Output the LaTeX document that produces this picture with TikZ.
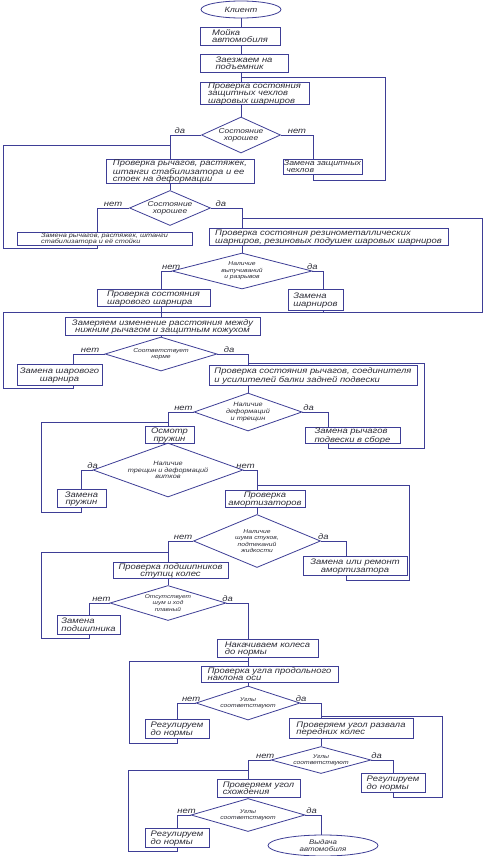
\documentclass[tikz,border=0pt]{standalone}
\usepackage{fontspec}
\setmainfont{Liberation Sans}[FakeStretch=1.18]
\usetikzlibrary{shapes.geometric}
\definecolor{flowline}{RGB}{62,62,150}
\definecolor{flowtext}{RGB}{45,45,55}

\tikzset{
  box/.style={draw=flowline, line width=0.8pt, text=flowtext, inner xsep=0pt, inner ysep=0.5pt, text depth=0pt, align=left, font=\fontsize{8}{7.5}\selectfont\itshape},
  term/.style={ellipse, draw=flowline, line width=0.8pt, text=flowtext, inner sep=0pt, align=center, font=\fontsize{7.6}{7.2}\selectfont\itshape},
  decision/.style={diamond, draw=flowline, line width=0.8pt, text=flowtext, inner sep=0.5pt, align=center, font=\fontsize{6.2}{6.8}\selectfont\itshape},
  tinydec/.style={decision, inner sep=0pt, font=\fontsize{5.7}{6}\selectfont\itshape},
  lbl/.style={above, inner sep=1pt, text=flowtext, font=\fontsize{8}{8}\selectfont\itshape},
  flow/.style={draw=flowline, line width=0.8pt}
}

\begin{document}
\begin{tikzpicture}[x=1pt, y=-1pt]
  \fill[white] (0,0) rectangle (483,856);
  \useasboundingbox (0,0) rectangle (483,856);

  % columns of the vertical lines
  \coordinate (colA) at (241,0);
  \coordinate (colB) at (170,0);
  \coordinate (colC) at (313,0);
  \coordinate (colD) at (97,0);
  \coordinate (colE) at (242,0);
  \coordinate (colF) at (161,0);
  \coordinate (colG) at (323,0);
  \coordinate (colH) at (73,0);
  \coordinate (colI) at (248,0);
  \coordinate (colJ) at (168,0);
  \coordinate (colK) at (328,0);
  \coordinate (colL) at (81,0);
  \coordinate (colM) at (257,0);
  \coordinate (colN) at (346,0);
  \coordinate (colP) at (89,0);
  \coordinate (colR) at (177,0);
  \coordinate (colS) at (321,0);
  \coordinate (colT) at (393,0);

  % Start
  \node[term, minimum width=80pt, minimum height=17pt] (start) at (241,9.5) {Клиент};
  \node[box, minimum width=80pt, minimum height=18pt] (b1) at (240,36) {Мойка\\автомобиля};
  \node[box, minimum width=88pt, minimum height=18pt] (b2) at (244,63) {Заезжаем на\\подъемник};
  \node[box, minimum width=109pt, minimum height=22pt] (b3) at (254.5,93) {Проверка состояния\\защитных чехлов\\шаровых шарниров};
  \node[decision, minimum width=79pt, minimum height=36pt, aspect=2.2, font=\fontsize{7.1}{7.3}\selectfont\itshape] (d1) at (241,135) {Состояние\\хорошее};
  \draw[flow] (start.south) -- (colA |- b1.north);
  \draw[flow] (colA |- b1.south) -- (colA |- b2.north);
  \draw[flow] (colA |- b2.south) -- (colA |- b3.north);
  \draw[flow] (colA |- b3.south) -- (d1.north);

  % Protective boots
  \node[box, minimum width=148pt, minimum height=24pt] (b4) at (180,171) {Проверка рычагов, растяжек,\\штанги стабилизатора и ее\\стоек на деформации};
  \node[box, minimum width=79pt, minimum height=15pt, font=\fontsize{7.4}{7.2}\selectfont\itshape] (b5) at (322.5,166.5) {Замена защитных\\\ чехлов};
  \draw[flow] (d1.west) -| node[lbl, pos=0.34] {да} (colB |- b4.north);
  \draw[flow] (d1.east) -| node[lbl, pos=0.25] {нет} (colC |- b5.north);
  \coordinate (l1) at (385,180);
  \coordinate (j1) at (241,77);
  \draw[flow] (colC |- b5.south) |- (l1) |- (j1);

  % Levers and stabilizer
  \node[decision, minimum width=81pt, minimum height=35pt, aspect=2.3, font=\fontsize{7.1}{7.3}\selectfont\itshape] (d2) at (170,208) {Состояние\\хорошее};
  \draw[flow] (colB |- b4.south) -- (d2.north);
  \node[box, minimum width=175pt, minimum height=13pt, font=\fontsize{6.2}{6}\selectfont\itshape] (b6) at (104.5,238.5) {Замена рычагов, растяжек, штанги\\стабилизатора и её стойки};
  \node[box, minimum width=239pt, minimum height=17pt] (b7) at (328.5,236.5) {Проверка состояния резинометаллических\\шарниров, резиновых подушек шаровых шарниров};
  \draw[flow] (d2.west) -| node[lbl, pos=0.25] {нет} (colD |- b6.north);
  \draw[flow] (d2.east) -| node[lbl, pos=0.16] {да} (colE |- b7.north);
  \coordinate (l2) at (3,248);
  \coordinate (j2) at (170,145);
  \draw[flow] (colD |- b6.south) |- (l2) |- (j2);

  % Rubber-metal joints
  \node[decision, minimum width=140pt, minimum height=36pt, aspect=3.9, font=\fontsize{5.7}{6.6}\selectfont\itshape] (d3) at (242,271) {Наличие\\выпучиваний\\и разрывов};
  \draw[flow] (colE |- b7.south) -- (d3.north);
  \node[box, minimum width=113pt, minimum height=17pt] (b8) at (153.5,297.5) {Проверка состояния\\шарового шарнира};
  \node[box, minimum width=55pt, minimum height=21pt] (b9) at (315.5,299.5) {Замена\\шарниров};
  \draw[flow] (d3.west) -| node[lbl, pos=0.02] {нет} (colF |- b8.north);
  \draw[flow] (d3.east) -| node[lbl, pos=0.0] {да} (colG |- b9.north);
  \coordinate (l3) at (482,312);
  \coordinate (j3) at (242,218);
  \draw[flow] (colG |- b9.south) |- (l3) |- (j3);

  % Ball joint
  \node[box, minimum width=195pt, minimum height=18pt, align=center] (b10) at (162.5,326) {Замеряем изменение расстояния между\\нижним рычагом и защитным кожухом};
  \draw[flow] (colF |- b8.south) -- (colF |- b10.north);
  \node[tinydec, minimum width=112pt, minimum height=34pt, aspect=3.3] (d4) at (161,354) {Соответствует\\норме};
  \draw[flow] (colF |- b10.south) -- (d4.north);
  \node[box, minimum width=85pt, minimum height=21pt, align=center] (b11) at (59.5,374.5) {Замена шарового\\шарнира};
  \node[box, minimum width=208pt, minimum height=20pt] (b12) at (313,375) {Проверка состояния рычагов, соединителя\\и усилителей балки задней подвески};
  \draw[flow] (d4.west) -| node[lbl, pos=0.23] {нет} (colH |- b11.north);
  \draw[flow] (d4.east) -| node[lbl, pos=0.19] {да} (colI |- b12.north);
  \coordinate (l4) at (3,388);
  \coordinate (j4) at (323,312);
  \draw[flow] (colH |- b11.south) |- (l4) |- (j4);

  % Rear axle levers
  \node[decision, minimum width=108pt, minimum height=38pt, aspect=2.85] (d5) at (248,412) {Наличие\\деформаций\\и трещин};
  \draw[flow] (colI |- b12.south) -- (d5.north);
  \node[box, minimum width=49pt, minimum height=17pt, align=center] (b13) at (169.5,434.5) {Осмотр\\пружин};
  \node[box, minimum width=95pt, minimum height=16pt] (b14) at (352.5,435) {Замена рычагов\\подвески в сборе};
  \draw[flow] (d5.west) -| node[lbl, pos=0.2] {нет} (colJ |- b13.north);
  \draw[flow] (d5.east) -| node[lbl, pos=0.12] {да} (colK |- b14.north);
  \coordinate (l5) at (424,448);
  \coordinate (j5) at (248,363);
  \draw[flow] (colK |- b14.south) |- (l5) |- (j5);

  % Springs
  \node[decision, minimum width=150pt, minimum height=54pt, aspect=2.8] (d6) at (168,470) {Наличие\\трещин и деформаций\\витков};
  \draw[flow] (colJ |- b13.south) -- (d6.north);
  \node[box, minimum width=49pt, minimum height=18pt, align=center] (b15) at (81.5,498) {Замена\\пружин};
  \node[box, minimum width=80pt, minimum height=17pt, align=center] (b16) at (265,498.5) {Проверка\\амортизаторов};
  \draw[flow] (d6.west) -| node[lbl, pos=0.0] {да} (colL |- b15.north);
  \draw[flow] (d6.east) -| node[lbl, pos=0.08] {нет} (colM |- b16.north);
  \coordinate (l6) at (41,512);
  \coordinate (j6) at (168,422);
  \draw[flow] (colL |- b15.south) |- (l6) |- (j6);

  % Shock absorbers
  \node[decision, minimum width=127pt, minimum height=53pt, aspect=2.4, font=\fontsize{5.7}{6.6}\selectfont\itshape] (d7) at (257,541) {Наличие\\шума стуков,\\подтеканий\\жидкости};
  \draw[flow] (colM |- b16.south) -- (d7.north);
  \node[box, minimum width=115pt, minimum height=16pt, align=center] (b18) at (170.5,570) {Проверка подшипников\\ступиц колес};
  \node[box, minimum width=104pt, minimum height=19pt, align=center] (b17) at (355,565.5) {Замена или ремонт\\амортизатора};
  \draw[flow] (d7.west) -| node[lbl, pos=0.2] {нет} (colJ |- b18.north);
  \draw[flow] (d7.east) -| node[lbl, pos=0.05] {да} (colN |- b17.north);
  \coordinate (l7) at (409,580);
  \coordinate (j7) at (257,485);
  \draw[flow] (colN |- b17.south) |- (l7) |- (j7);

  % Wheel bearings
  \node[decision, minimum width=116pt, minimum height=35pt, aspect=3.3, font=\fontsize{5.5}{6.4}\selectfont\itshape] (d8) at (168,603) {Отсутствует\\шум и ход\\плавный};
  \draw[flow] (colJ |- b18.south) -- (d8.north);
  \node[box, minimum width=63pt, minimum height=19pt] (b19) at (88.5,624.5) {Замена\\подшипника};
  \node[box, minimum width=101pt, minimum height=18pt] (b20) at (267.5,648) {Накачиваем колеса\\до нормы};
  \draw[flow] (d8.west) -| node[lbl, pos=0.2] {нет} (colP |- b19.north);
  \draw[flow] (d8.east) -| node[lbl, pos=0.03] {да} (colI |- b20.north);
  \coordinate (l8) at (41,638);
  \coordinate (j8) at (168,552);
  \draw[flow] (colP |- b19.south) |- (l8) |- (j8);

  % Caster angle
  \node[box, minimum width=137pt, minimum height=16pt] (b21) at (269.5,674) {Проверка угла продольного\\наклона оси};
  \draw[flow] (colI |- b20.south) -- (colI |- b21.north);
  \node[tinydec, minimum width=104pt, minimum height=34pt, aspect=3.05] (d9) at (248,703) {Углы\\соответствуют};
  \draw[flow] (colI |- b21.south) -- (d9.north);
  \node[box, minimum width=64pt, minimum height=19pt] (b22) at (177,728.5) {Регулируем\\до нормы};
  \node[box, minimum width=124pt, minimum height=20pt] (b23) at (351,728) {Проверяем угол развала\\передних колес};
  \draw[flow] (d9.west) -| node[lbl, pos=0.12] {нет} (colR |- b22.north);
  \draw[flow] (d9.east) -| node[lbl, pos=0.02] {да} (colS |- b23.north);
  \coordinate (l9) at (129,743);
  \coordinate (j9) at (248,661);
  \draw[flow] (colR |- b22.south) |- (l9) |- (j9);

  % Camber angle
  \node[tinydec, minimum width=100pt, minimum height=27pt, aspect=3.7] (d10) at (321,760) {Углы\\соответствуют};
  \draw[flow] (colS |- b23.south) -- (d10.north);
  \node[box, minimum width=83pt, minimum height=18pt] (b24) at (258.5,788) {Проверяем угол\\схождения};
  \node[box, minimum width=64pt, minimum height=19pt] (b25) at (393,782.5) {Регулируем\\до нормы};
  \draw[flow] (d10.west) -| node[lbl, pos=0.12] {нет} (colI |- b24.north);
  \draw[flow] (d10.east) -| node[lbl, pos=0.12] {да} (colT |- b25.north);
  \coordinate (l10) at (442,797);
  \coordinate (j10) at (321,716);
  \draw[flow] (colT |- b25.south) |- (l10) |- (j10);

  % Toe angle
  \node[tinydec, minimum width=114pt, minimum height=33pt, aspect=3.45] (d11) at (248,815) {Углы\\соответствуют};
  \draw[flow] (colI |- b24.south) -- (d11.north);
  \node[box, minimum width=64pt, minimum height=19pt] (b26) at (177,837.5) {Регулируем\\до нормы};
  \node[term, minimum width=110pt, minimum height=21pt, font=\fontsize{6.7}{6.7}\selectfont\itshape] (fin) at (323,845.5) {Выдача\\автомобиля};
  \draw[flow] (d11.west) -| node[lbl, pos=0.15] {нет} (colR |- b26.north);
  \draw[flow] (d11.east) -| node[lbl, pos=0.2] {да} (colS |- fin.north);
  \coordinate (l11) at (128,851);
  \coordinate (j11) at (248,770);
  \draw[flow] (colR |- b26.south) |- (l11) |- (j11);
\end{tikzpicture}
\end{document}
